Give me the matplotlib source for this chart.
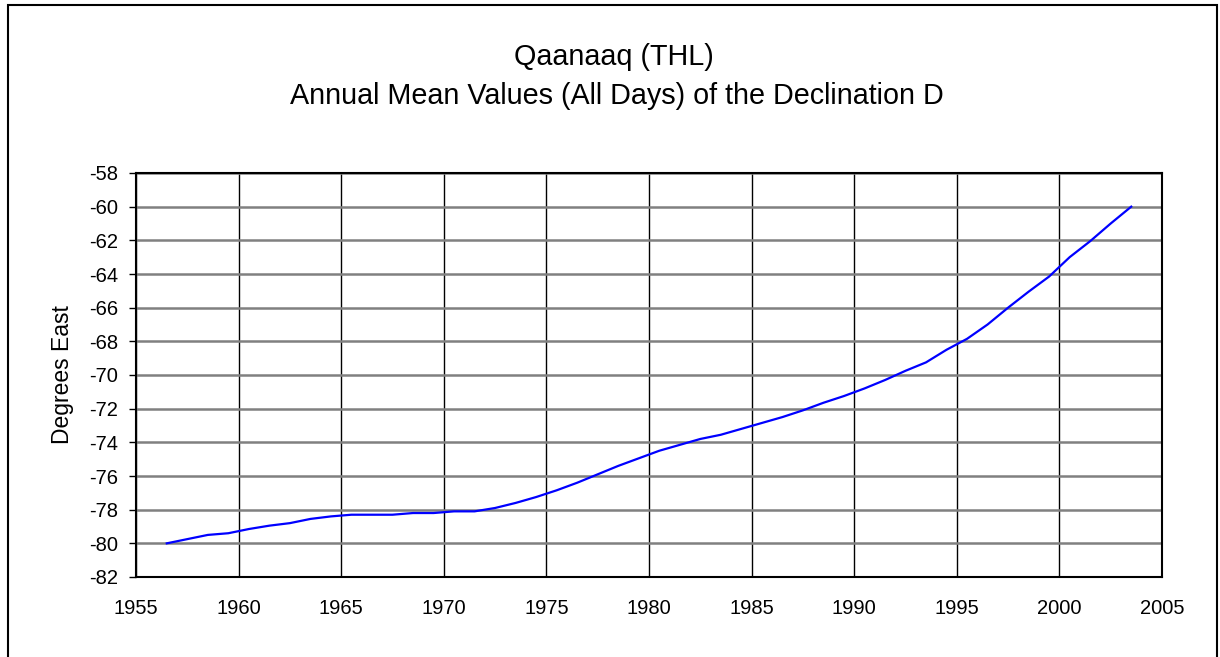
import matplotlib
matplotlib.use("Agg")
import matplotlib.pyplot as plt
from matplotlib.patches import Rectangle

# annual means, plotted at mid-year
years = [1956, 1957, 1958, 1959, 1960, 1961, 1962, 1963, 1964, 1965,
         1966, 1967, 1968, 1969, 1970, 1971, 1972, 1973, 1974, 1975,
         1976, 1977, 1978, 1979, 1980, 1981, 1982, 1983, 1984, 1985,
         1986, 1987, 1988, 1989, 1990, 1991, 1992, 1993, 1994, 1995,
         1996, 1997, 1998, 1999, 2000, 2001, 2002, 2003]
declination = [-80.0, -79.75, -79.5, -79.4, -79.15, -78.95, -78.8, -78.55, -78.4, -78.3,
               -78.3, -78.3, -78.2, -78.2, -78.1, -78.1, -77.9, -77.6, -77.25, -76.85,
               -76.4, -75.9, -75.4, -74.95, -74.5, -74.15, -73.8, -73.55, -73.2, -72.85,
               -72.5, -72.1, -71.65, -71.25, -70.8, -70.3, -69.75, -69.25, -68.5, -67.85,
               -67.0, -66.0, -65.05, -64.15, -63.0, -62.05, -61.0, -60.0]

x_ticks = list(range(1955, 2006, 5))
y_ticks = list(range(-82, -57, 2))

plt.rcParams['font.family'] = ['Liberation Sans', 'DejaVu Sans']
plt.rcParams['axes.unicode_minus'] = False

fig = plt.figure(figsize=(12.2, 6.57), dpi=100, facecolor="w")
ax = fig.add_axes([136/1220, 80/657, 1026/1220, 404/657])

ax.plot([y + 0.5 for y in years], declination, color="#0000ff", lw=1.6, zorder=3)

ax.set_xlim(1955, 2005)
ax.set_ylim(-82, -58)
ax.set_xticks(x_ticks)
ax.set_yticks(y_ticks)
ax.tick_params(axis="x", length=0, pad=15.5, labelsize=14.5)
ax.tick_params(axis="y", length=5, width=1, pad=8, labelsize=14.5)
ax.xaxis.grid(True, color="black", lw=1.0)
ax.yaxis.grid(True, color="#808080", lw=1.8)
ax.set_axisbelow(True)
for s in ax.spines.values():
    s.set_linewidth(1.5)
ax.set_ylabel("Degrees East", fontsize=16.5, labelpad=11)

fig.text(614/1220, 1 - 65/657, "Qaanaaq (THL)", ha="center", va="baseline", fontsize=20.7)
fig.text(617/1220, 1 - 104/657, "Annual Mean Values (All Days) of the Declination D",
         ha="center", va="baseline", fontsize=20.7)

# outer frame
fig.patches.append(Rectangle((8/1220, -0.02), 1209/1220, 1.02 - 5/657,
                             transform=fig.transFigure, fill=False,
                             edgecolor="black", lw=1.5))

fig.savefig("out.png", dpi=100)
